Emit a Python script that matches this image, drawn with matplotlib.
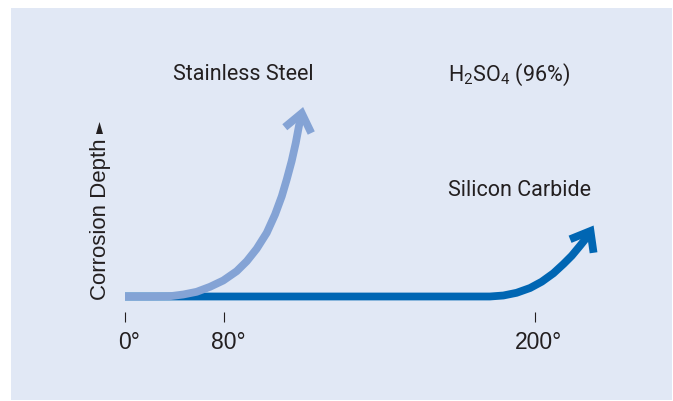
import numpy as np
import matplotlib
matplotlib.use("Agg")
import matplotlib.pyplot as plt
from matplotlib.patches import Rectangle, Polygon
from matplotlib.transforms import ScaledTranslation

# ---------------- data ----------------
# temperature in degrees, corrosion depth in arbitrary units
steel_temp = [0, 20.2, 36.4, 47.1, 57.9, 68.7, 79.4, 84.9, 88.8, 92.6, 96.5,
              99.7, 102.3, 104.2, 106.1, 107.7, 108.9, 110.0]
steel_depth = [0, 0, 0.3, 2, 4.7, 9.7, 16, 25.3, 35.3, 47.7, 63.7,
               82, 100.3, 117, 135.3, 153.7, 170.3, 183.3]

sic_temp = [0, 182.6, 187.8, 192.9, 198.1, 202.6, 207.1, 211.0, 214.2, 217.4, 220.0, 221.4]
sic_depth = [0, 0, 1, 3.7, 8.5, 14.8, 23.2, 32.5, 40.8, 50.8, 59.2, 65.5]

tick_temps = [0, 80, 200]
tick_labels = ["0°", "80°", "200°"]

# schematic (non-linear) temperature axis: degree -> drawing position
scale_deg = [-1000, 0, 80, 200, 1000]
scale_pos = [-1237.5, 0, 99, 410, 410 + 800 * 2.5917]

# ---------------- styling ----------------
BG = "#E1E8F5"
LIGHT = "#84A3D5"
DARK = "#0066B3"
TXT = "#231F20"
LW = 5.6

W, H = 673, 402
BASE = 297.5  # pixel row of zero depth
fig = plt.figure(figsize=(W / 100, H / 100), dpi=100)
fig.patch.set_facecolor("white")

def fx(px):
    return px / W

def fy(py):
    return 1 - py / H

fig.patches.append(Rectangle((fx(11), fy(401)), fx(672) - fx(11), fy(9) - fy(401),
                             transform=fig.transFigure, facecolor=BG,
                             edgecolor="none", zorder=-10))

ax = fig.add_axes([0, 0, 1, 1])
ax.set_facecolor("none")
ax.set_zorder(1)

def fwd(d):
    return np.interp(d, scale_deg, scale_pos)

def inv(p):
    return np.interp(p, scale_pos, scale_deg)

ax.set_xscale("function", functions=(fwd, inv))
ax.set_xlim(inv(-125), inv(673 - 125))
ax.set_ylim(BASE - 402, BASE)

for s in ["top", "right", "left"]:
    ax.spines[s].set_visible(False)
ax.spines["bottom"].set_position(("data", BASE - 318))
ax.spines["bottom"].set_visible(False)
ax.set_yticks([])
ax.set_xticks(tick_temps)
ax.set_xticklabels(tick_labels, family="Liberation Sans", fontsize=16.5, color=TXT)
ax.tick_params(axis="x", direction="inout", length=7.2, width=0.8, color=TXT, pad=5.5)
for lab in ax.get_xticklabels():
    lab.set_transform(lab.get_transform() + ScaledTranslation(4 / 100, 0, fig.dpi_scale_trans))


def draw_arrow(xs, ys, color, z):
    ax.plot(xs, ys, color=color, lw=LW, solid_capstyle="butt",
            solid_joinstyle="round", zorder=z)
    # chevron head computed in display space from the last segment
    p1 = ax.transData.transform((xs[-2], ys[-2]))
    p2 = ax.transData.transform((xs[-1], ys[-1]))
    d = (p2 - p1) / np.linalg.norm(p2 - p1)
    back = -d
    L = 22.0
    ang = np.deg2rad(38)
    rot = lambda v, a: np.array([v[0] * np.cos(a) - v[1] * np.sin(a),
                                 v[0] * np.sin(a) + v[1] * np.cos(a)])
    a1 = p2 + L * rot(back, ang)
    a2 = p2 + L * rot(back, -ang)
    pts = ax.transData.inverted().transform(np.array([a1, p2, a2]))
    ax.plot(pts[:, 0], pts[:, 1], color=color, lw=LW, solid_capstyle="butt",
            solid_joinstyle="miter", zorder=z)


draw_arrow(sic_temp, sic_depth, DARK, 2)
draw_arrow(steel_temp, steel_depth, LIGHT, 3)

# ---------------- text ----------------
fig.text(fx(173), fy(80.5), "Stainless Steel", family="Roboto", fontsize=15.5,
         color=TXT, ha="left", va="baseline")
fig.text(fx(448.5), fy(80.5), r"H$\mathregular{_2}$SO$\mathregular{_4}$ (96%)",
         family="Roboto", fontsize=15.5, color=TXT, ha="left", va="baseline")
fig.text(fx(448.5), fy(196.5), "Silicon Carbide", family="Roboto", fontsize=15.5,
         color=TXT, ha="left", va="baseline")
fig.text(fx(106), fy(300), "Corrosion Depth", family="Liberation Sans", fontsize=16,
         color=TXT, rotation=90, rotation_mode="anchor", ha="left", va="baseline")
fig.patches.append(Polygon([(fx(96), fy(135)), (fx(103), fy(135)), (fx(99.5), fy(123))],
                           closed=True, transform=fig.transFigure,
                           facecolor=TXT, edgecolor="none", zorder=5))

fig.savefig("out.png", dpi=100, facecolor="white")
